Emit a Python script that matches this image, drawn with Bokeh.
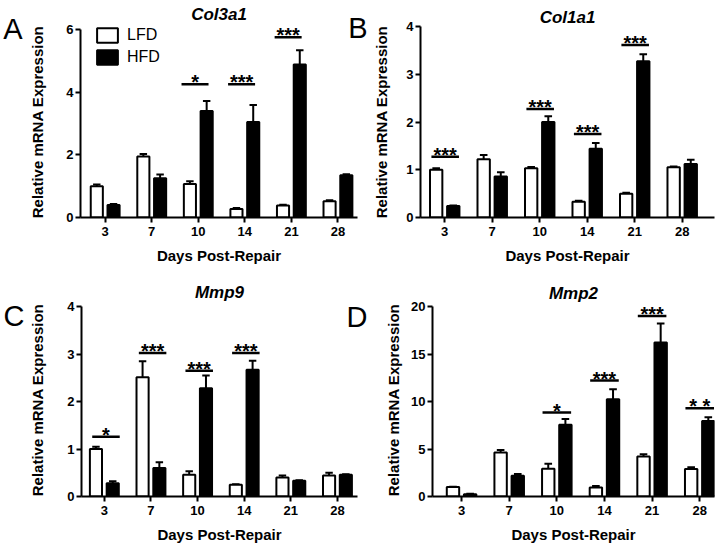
from bokeh.plotting import figure
from bokeh.layouts import row, column
from bokeh.models import Range1d, FixedTicker, Legend, LegendItem, LinearAxis
from bokeh.core.properties import value
from bokeh.embed import file_html
from bokeh.resources import INLINE

# ---------------- data ----------------
days = ["3", "7", "10", "14", "21", "28"]
series_names = ["LFD", "HFD"]

col3a1_lfd = [1.00, 1.95, 1.07, 0.27, 0.38, 0.52]
col3a1_lfd_sem = [0.05, 0.08, 0.09, 0.03, 0.03, 0.03]
col3a1_hfd = [0.40, 1.25, 3.40, 3.05, 4.88, 1.35]
col3a1_hfd_sem = [0.03, 0.12, 0.32, 0.54, 0.46, 0.03]
col3a1_sig_day = ["10", "14", "21"]
col3a1_sig_y = [4.25, 4.25, 5.75]
col3a1_sig_text = ["*", "***", "***"]
col3a1_yticks = [0, 2, 4, 6]

col1a1_lfd = [1.00, 1.22, 1.03, 0.33, 0.50, 1.05]
col1a1_lfd_sem = [0.03, 0.09, 0.03, 0.02, 0.02, 0.02]
col1a1_hfd = [0.24, 0.86, 2.00, 1.44, 3.27, 1.12]
col1a1_hfd_sem = [0.01, 0.09, 0.12, 0.12, 0.15, 0.09]
col1a1_sig_day = ["3", "10", "14", "21"]
col1a1_sig_y = [1.27, 2.27, 1.75, 3.61]
col1a1_sig_text = ["***", "***", "***", "***"]
col1a1_yticks = [0, 1, 2, 3, 4]

mmp9_lfd = [1.00, 2.51, 0.46, 0.25, 0.40, 0.44]
mmp9_lfd_sem = [0.05, 0.34, 0.07, 0.01, 0.04, 0.06]
mmp9_hfd = [0.28, 0.60, 2.28, 2.67, 0.33, 0.46]
mmp9_hfd_sem = [0.04, 0.12, 0.27, 0.19, 0.01, 0.01]
mmp9_sig_day = ["3", "7", "10", "14"]
mmp9_sig_y = [1.26, 3.02, 2.65, 3.02]
mmp9_sig_text = ["*", "***", "***", "***"]
mmp9_yticks = [0, 1, 2, 3, 4]

mmp2_lfd = [1.00, 4.63, 2.91, 0.95, 4.21, 2.90]
mmp2_lfd_sem = [0.02, 0.27, 0.53, 0.15, 0.25, 0.19]
mmp2_hfd = [0.25, 2.18, 7.54, 10.25, 16.20, 7.96]
mmp2_hfd_sem = [0.03, 0.20, 0.63, 1.05, 2.00, 0.39]
mmp2_sig_day = ["10", "14", "21", "28"]
mmp2_sig_y = [8.84, 12.2, 19.0, 9.3]
mmp2_sig_text = ["*", "***", "***", "* *"]
mmp2_yticks = [0, 5, 10, 15, 20]

FONT = "Liberation Sans"
BAR_W = 0.26
OFF = 0.18


def make_panel(gene, letter, lfd, lfd_sem, hfd, hfd_sem, sig_day, sig_y, sig_text, yticks, cfg,
               legend=False):
    ymax = yticks[-1]
    top, zero, pad = cfg["top"], cfg["zero"], cfg["pad"]
    bt = top - pad
    bb = cfg["h"] - zero
    frame_h = zero - bt
    yend = ymax * frame_h / (zero - top)
    p = figure(width=cfg["w"], height=cfg["h"], output_backend="svg", toolbar_location=None,
               x_range=Range1d(cfg["x0"], cfg["x1"]), y_range=Range1d(0, yend),
               min_border_left=cfg["bl"], min_border_right=cfg["br"],
               min_border_top=bt, min_border_bottom=bb)
    p.outline_line_color = None
    p.grid.visible = False
    p.background_fill_color = None
    p.border_fill_color = None

    xs = list(range(len(days)))
    xl = [x - OFF for x in xs]
    xh = [x + OFF for x in xs]

    # error bars (upper only)
    for pos, m, e in ((xl, lfd, lfd_sem), (xh, hfd, hfd_sem)):
        tops = [a + b for a, b in zip(m, e)]
        p.segment(x0=pos, y0=m, x1=pos, y1=tops, line_color="black", line_width=2)
        p.segment(x0=[q - 0.08 for q in pos], y0=tops, x1=[q + 0.08 for q in pos], y1=tops,
                  line_color="black", line_width=2)

    r_l = p.vbar(x=xl, top=lfd, width=BAR_W, bottom=0, fill_color="white",
                 line_color="black", line_width=2)
    r_h = p.vbar(x=xh, top=hfd, width=BAR_W, bottom=0, fill_color="black",
                 line_color="black", line_width=2)

    # significance bars and stars
    gi = [days.index(d) for d in sig_day]
    p.segment(x0=[g - cfg["sl"] for g in gi], y0=sig_y, x1=[g + cfg["sr"] for g in gi],
              y1=sig_y, line_color="black", line_width=2.5)
    p.text(x=[g + (cfg["sr"] - cfg["sl"]) / 2 for g in gi], y=sig_y, text=sig_text,
           text_font=value(FONT), text_font_size="20px", text_font_style="bold",
           text_align="center", text_baseline="alphabetic", y_offset=-2, text_color="black")

    # axes
    for ax in (p.xaxis, p.yaxis):
        ax.axis_line_width = 2
        ax.axis_line_color = "black"
        ax.major_tick_line_width = 2
        ax.major_tick_line_color = "black"
        ax.major_tick_out = 5
        ax.major_tick_in = 0
        ax.minor_tick_line_color = None
        ax.major_label_text_font = FONT
        ax.major_label_text_font_size = "13px"
        ax.major_label_text_font_style = "bold"
        ax.major_label_text_color = "black"
        ax.axis_label_text_font = FONT
        ax.axis_label_text_font_size = "15px"
        ax.axis_label_text_font_style = "bold"
        ax.axis_label_text_color = "black"
    p.xaxis.ticker = FixedTicker(ticks=xs)
    p.xaxis.major_label_overrides = {i: d for i, d in enumerate(days)}
    p.xaxis.axis_label = "Days Post-Repair"
    p.xaxis.major_label_standoff = 4
    p.xaxis.axis_label_standoff = 8
    p.yaxis.ticker = FixedTicker(ticks=yticks)
    p.yaxis.bounds = (0, ymax)
    p.yaxis.axis_label = "Relative mRNA Expression"
    p.yaxis.major_label_standoff = 2
    p.yaxis.axis_label_standoff = cfg["ylab"]

    # panel letter as an outer left axis carrying a single label
    lv = round(ymax - cfg["ldy"] * ymax / (zero - top), 4)
    la = LinearAxis(ticker=FixedTicker(ticks=[lv]), major_label_overrides={lv: letter},
                    axis_line_color=None, major_tick_line_color=None,
                    minor_tick_line_color=None, major_tick_out=0, major_tick_in=0,
                    minor_tick_out=0, minor_tick_in=0,
                    major_label_standoff=cfg["ls"], major_label_text_font=FONT,
                    major_label_text_font_size="29px", major_label_text_font_style="normal",
                    major_label_text_color="black")
    p.add_layout(la, "left")

    # gene title
    p.title.text = gene
    p.title.align = "center"
    p.title.vertical_align = cfg["tva"]
    p.title.offset = cfg["toff"]
    p.title.text_font = FONT
    p.title.text_font_size = "17px"
    p.title.text_font_style = "bold italic"
    p.title.text_color = "black"
    p.title.standoff = cfg["tso"]

    if legend:
        lg = Legend(items=[LegendItem(label=series_names[0], renderers=[r_l]),
                           LegendItem(label=series_names[1], renderers=[r_h])],
                    location=(14, 151), glyph_width=26, glyph_height=18, label_height=18,
                    spacing=4, padding=0, margin=0, label_standoff=7,
                    border_line_color=None, background_fill_alpha=0,
                    label_text_font=FONT, label_text_font_size="16px",
                    label_text_color="black")
        p.add_layout(lg)
    return p


cfgA = dict(w=362, h=273, bl=76, br=5, top=28, zero=217, pad=3, x0=-0.53, x1=5.42,
            sl=0.36, sr=0.22, ylab=17, ldy=0, ls=4, toff=2, tso=2, tva="top")
cfgB = dict(w=373, h=273, bl=77, br=2, top=26, zero=217, pad=0, x0=-0.51, x1=5.68,
            sl=0.28, sr=0.30, ylab=13, ldy=1.5, ls=3, toff=-6, tso=0, tva="bottom")
cfgC = dict(w=362, h=274, bl=76, br=5, top=33, zero=223, pad=3, x0=-0.49, x1=5.43,
            sl=0.26, sr=0.33, ylab=18, ldy=10, ls=2, toff=-3, tso=4, tva="bottom")
cfgD = dict(w=373, h=274, bl=82, br=2, top=33, zero=223, pad=3, x0=-0.61, x1=5.31,
            sl=0.30, sr=0.30, ylab=6, ldy=10.5, ls=15, toff=5, tso=2, tva="bottom")

pA = make_panel("Col3a1", "A", col3a1_lfd, col3a1_lfd_sem, col3a1_hfd, col3a1_hfd_sem,
                col3a1_sig_day, col3a1_sig_y, col3a1_sig_text, col3a1_yticks, cfgA, legend=True)
pB = make_panel("Col1a1", "B", col1a1_lfd, col1a1_lfd_sem, col1a1_hfd, col1a1_hfd_sem,
                col1a1_sig_day, col1a1_sig_y, col1a1_sig_text, col1a1_yticks, cfgB)
pC = make_panel("Mmp9", "C", mmp9_lfd, mmp9_lfd_sem, mmp9_hfd, mmp9_hfd_sem,
                mmp9_sig_day, mmp9_sig_y, mmp9_sig_text, mmp9_yticks, cfgC)
pD = make_panel("Mmp2", "D", mmp2_lfd, mmp2_lfd_sem, mmp2_hfd, mmp2_hfd_sem,
                mmp2_sig_day, mmp2_sig_y, mmp2_sig_text, mmp2_yticks, cfgD)
pB.margin = (0, 0, 0, -19)
pD.margin = (0, 0, 0, -19)

layout = column(row(pA, pB), row(pC, pD))
open("out.html", "w").write(file_html(layout, INLINE))
